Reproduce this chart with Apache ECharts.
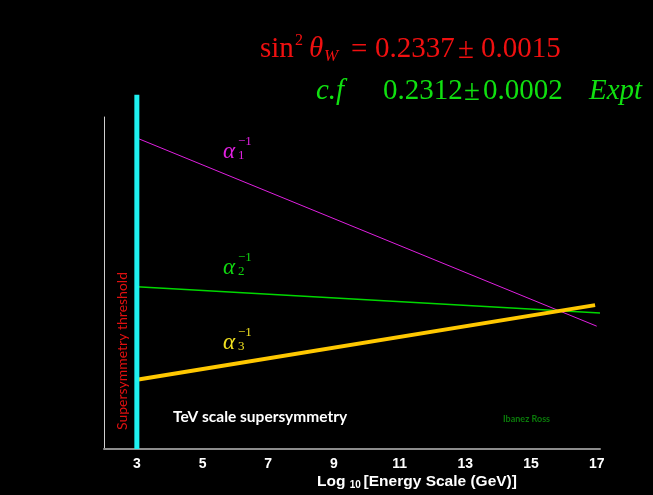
<!DOCTYPE html>
<html>
<head>
<meta charset="utf-8">
<script src="https://cdn.jsdelivr.net/npm/echarts@6/dist/echarts.min.js"></script>
<style>
  html, body { margin: 0; padding: 0; background: #000; }
  #chart { width: 653px; height: 495px; }
</style>
</head>
<body>
<div id="chart"></div>
<script>
// Running inverse couplings against log10 of the energy scale (GeV)
const energyTicks = [3, 5, 7, 9, 11, 13, 15, 17];
const alpha1Inv = [[3, 56.2], [17, 22.2]];
const alpha2Inv = [[3, 29.3], [17.1, 24.6]];
const alpha3Inv = [[3, 12.5], [16.95, 26.0]];
const thresholdLine = [[3, 0], [3, 64]];

const serif = '"Liberation Serif", "Times New Roman", serif';
const sans = '"Liberation Sans", Arial, sans-serif';
const humanist = 'Lato, "Open Sans", sans-serif';

const chart = echarts.init(document.getElementById('chart'));

// one piece of formula text, vertically centred on y
function piece(x, y, text, font, color) {
  return { type: 'text', x: x, y: y, style: { text: text, font: font, fill: color, verticalAlign: 'middle' } };
}

function alphaLabel(x, y, sub, color) {
  return [
    { type: 'text', left: x, top: y, style: { text: 'α', font: 'italic 23px ' + serif, fill: color } },
    { type: 'text', left: x + 15, top: y - 5, style: { text: '−1', font: '13px ' + serif, fill: color } },
    { type: 'text', left: x + 15, top: y + 9, style: { text: sub, font: '13px ' + serif, fill: color } }
  ];
}

const red = '#f01010';
const green = '#10e010';
const big = '29px ' + serif;
const bigIt = 'italic 29px ' + serif;

chart.setOption({
  backgroundColor: '#000',
  animation: false,
  grid: { left: 104, right: 53, top: 117, bottom: 46 },
  xAxis: {
    type: 'value', min: 2, max: 17.1,
    axisLine: { lineStyle: { color: '#8c8c8c', width: 2 } },
    axisTick: { show: false },
    splitLine: { show: false },
    axisLabel: {
      customValues: energyTicks, margin: 8,
      color: '#fff', fontWeight: 'bold', fontSize: 14, fontFamily: sans
    }
  },
  yAxis: {
    type: 'value', min: 0, max: 60,
    axisLine: { show: true, lineStyle: { color: '#d0d0d0', width: 1 } },
    axisTick: { show: false },
    axisLabel: { show: false },
    splitLine: { show: false }
  },
  series: [
    { type: 'line', data: alpha1Inv, symbol: 'none', lineStyle: { color: '#e020e0', width: 1 }, z: 2 },
    { type: 'line', data: alpha2Inv, symbol: 'none', lineStyle: { color: '#00d800', width: 1.5 }, z: 2 },
    { type: 'line', data: alpha3Inv, symbol: 'none', lineStyle: { color: '#ffc800', width: 4 }, z: 3 },
    { type: 'line', data: thresholdLine, symbol: 'none', clip: false, lineStyle: { color: '#1ef0f0', width: 5 }, z: 4 }
  ],
  graphic: [
    // sin^2 θ_W = 0.2337 ± 0.0015
    piece(260, 49, 'sin', big, red),
    piece(295, 41, '2', '16px ' + serif, red),
    piece(309, 49, 'θ', bigIt, red),
    piece(324, 57, 'W', 'italic 17px ' + serif, red),
    piece(351, 50, '=', big, red),
    piece(375, 49, '0.2337', big, red),
    piece(458, 50, '±', big, red),
    piece(481, 49, '0.0015', big, red),
    // c.f 0.2312 ± 0.0002 Expt
    piece(316, 91, 'c.f', bigIt, green),
    piece(383, 91, '0.2312', big, green),
    piece(464, 92, '±', big, green),
    piece(483, 91, '0.0002', big, green),
    piece(589, 91, 'Expt', bigIt, green),
    ...alphaLabel(223, 140, '1', '#e020e0'),
    ...alphaLabel(223, 256, '2', '#10d810'),
    ...alphaLabel(223, 331, '3', '#f0e020'),
    {
      type: 'text', x: 122, y: 351, rotation: Math.PI / 2,
      style: { text: 'Supersymmetry threshold', font: '14px ' + humanist, fill: '#e01010', align: 'center', verticalAlign: 'middle' }
    },
    { type: 'text', left: 173, top: 409, style: { text: 'TeV scale supersymmetry', font: 'bold 15.5px ' + humanist, fill: '#fff' } },
    { type: 'text', left: 503, top: 415, style: { text: 'Ibanez Ross', font: 'bold 9px ' + humanist, fill: '#0a7a0a' } },
    {
      type: 'text', left: 317, top: 474,
      style: {
        text: '{t|Log }{s|10 }{t|[Energy Scale (GeV)]}',
        rich: {
          t: { font: 'bold 15.5px ' + sans, fill: '#fff' },
          s: { font: 'bold 10px ' + sans, fill: '#fff', padding: [6, 0, 0, 0] }
        }
      }
    }
  ]
});
</script>
</body>
</html>
